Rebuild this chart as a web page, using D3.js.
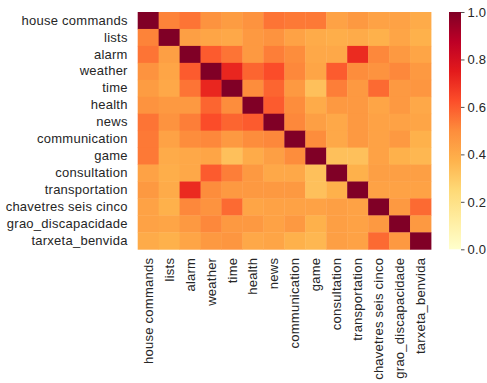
<!DOCTYPE html>
<html>
<head>
<meta charset="utf-8">
<script src="https://cdn.jsdelivr.net/npm/d3@7"></script>
<style>
  html, body { margin: 0; padding: 0; background: #fff; }
  svg { display: block; }
  text { font-family: "Liberation Sans", Arial, sans-serif; fill: #262626; }
</style>
</head>
<body>
<svg id="chart" width="487" height="383"></svg>
<script>
// Intent categories (rows and columns share the same order)
const categories = [
  "house commands", "lists", "alarm", "weather", "time", "health", "news",
  "communication", "game", "consultation", "transportation",
  "chavetres seis cinco", "grao_discapacidade", "tarxeta_benvida"
];

// Correlation matrix, one row per category
const correlations = [
  [1.00, .52, .55, .48, .45, .48, .55, .54, .54, .43, .46, .43, .43, .40],
  [.52, 1.00, .44, .42, .41, .46, .48, .43, .40, .39, .40, .38, .42, .38],
  [.55, .44, 1.00, .60, .55, .46, .53, .50, .41, .41, .71, .51, .46, .42],
  [.48, .42, .60, 1.00, .72, .58, .63, .51, .42, .60, .50, .48, .51, .46],
  [.45, .41, .55, .72, 1.00, .50, .58, .46, .33, .53, .46, .57, .46, .47],
  [.48, .46, .46, .58, .50, 1.00, .60, .50, .40, .46, .46, .42, .46, .41],
  [.55, .48, .53, .63, .58, .60, 1.00, .51, .44, .41, .46, .43, .43, .42],
  [.54, .43, .50, .51, .46, .50, .51, 1.00, .50, .41, .46, .43, .46, .38],
  [.54, .40, .41, .42, .33, .40, .44, .50, 1.00, .33, .33, .43, .38, .36],
  [.43, .39, .41, .60, .53, .46, .41, .41, .33, 1.00, .38, .44, .44, .44],
  [.46, .40, .71, .50, .46, .46, .46, .46, .33, .38, 1.00, .43, .43, .43],
  [.43, .38, .51, .48, .57, .42, .43, .43, .43, .44, .43, 1.00, .46, .57],
  [.43, .42, .46, .51, .46, .46, .43, .46, .38, .44, .43, .46, 1.00, .46],
  [.40, .38, .42, .46, .47, .41, .42, .38, .36, .44, .43, .57, .46, 1.00]
];

// Colour bar ticks
const colorbarTicks = [0.0, 0.2, 0.4, 0.6, 0.8, 1.0];

// YlOrRd ramp (9-class), linearly interpolated
const ylOrRd = ["#ffffcc", "#ffeda0", "#fed976", "#feb24c", "#fd8d3c",
                "#fc4e2a", "#e31a1c", "#bd0026", "#800026"];

const svg = d3.select("#chart");
const plot = { left: 137.7, top: 12, right: 431, bottom: 249.3 };

const x = d3.scaleBand().domain(categories).range([plot.left, plot.right]).padding(0);
const y = d3.scaleBand().domain(categories).range([plot.top, plot.bottom]).padding(0);
const color = d3.scaleLinear()
  .domain(d3.range(ylOrRd.length).map(i => i / (ylOrRd.length - 1)))
  .range(ylOrRd)
  .interpolate(d3.interpolateRgb)
  .clamp(true);

const cells = [];
correlations.forEach((row, i) => row.forEach((v, j) => {
  cells.push({ row: categories[i], col: categories[j], value: v });
}));

svg.append("g")
  .selectAll("rect")
  .data(cells)
  .join("rect")
  .attr("x", d => x(d.col))
  .attr("y", d => y(d.row))
  .attr("width", x.bandwidth() + 0.4)
  .attr("height", y.bandwidth() + 0.4)
  .attr("fill", d => color(d.value));

const fontSize = "13px";
const spacing = "0.25px";

// Row labels
const yAxis = svg.append("g")
  .attr("transform", `translate(${plot.left},0)`)
  .call(d3.axisLeft(y).tickSize(0).tickPadding(10));
yAxis.select(".domain").remove();
yAxis.selectAll("text")
  .style("font-size", fontSize)
  .style("letter-spacing", spacing)
  .attr("fill", "#262626");

// Column labels, rotated
const xAxis = svg.append("g")
  .attr("transform", `translate(0,${plot.bottom})`)
  .call(d3.axisBottom(x).tickSize(0).tickPadding(0));
xAxis.select(".domain").remove();
xAxis.selectAll("text")
  .style("font-size", fontSize)
  .style("letter-spacing", spacing)
  .attr("fill", "#262626")
  .attr("transform", "rotate(-90)")
  .attr("text-anchor", "end")
  .attr("dy", "0.35em")
  .attr("dx", 0)
  .attr("x", -8.5)
  .attr("y", 0);

// Colour bar
const cb = { x: 449, width: 12, top: 12, bottom: 249.3 };
const defs = svg.append("defs");
const grad = defs.append("linearGradient")
  .attr("id", "cbgrad")
  .attr("x1", 0).attr("y1", 1).attr("x2", 0).attr("y2", 0);
grad.selectAll("stop")
  .data(ylOrRd)
  .join("stop")
  .attr("offset", (d, i) => i / (ylOrRd.length - 1))
  .attr("stop-color", d => d);

svg.append("rect")
  .attr("x", cb.x)
  .attr("y", cb.top)
  .attr("width", cb.width)
  .attr("height", cb.bottom - cb.top)
  .attr("fill", "url(#cbgrad)");

const cbScale = d3.scaleLinear().domain([0, 1]).range([cb.bottom, cb.top]);
const cbAxis = svg.append("g")
  .attr("transform", `translate(${cb.x + cb.width},0)`)
  .call(d3.axisRight(cbScale).tickValues(colorbarTicks)
    .tickFormat(d3.format(".1f")).tickSize(3.5).tickPadding(3));
cbAxis.select(".domain").remove();
cbAxis.selectAll("line").attr("stroke", "#262626").attr("stroke-width", 0.8);
cbAxis.selectAll("text")
  .style("font-size", fontSize)
  .style("letter-spacing", spacing)
  .attr("fill", "#262626");
</script>
</body>
</html>
